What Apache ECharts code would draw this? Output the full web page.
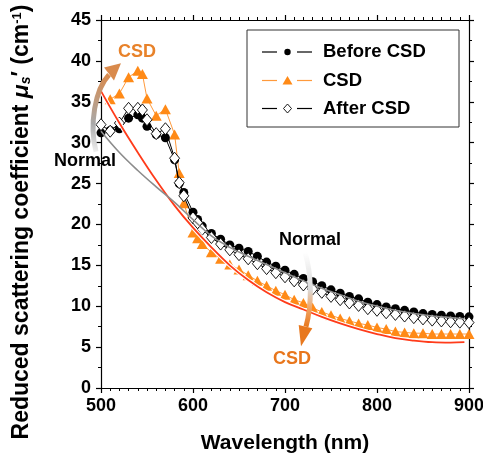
<!DOCTYPE html>
<html>
<head>
<meta charset="utf-8">
<script src="https://cdn.jsdelivr.net/npm/echarts@6/dist/echarts.min.js"></script>
<style>
html, body { margin: 0; padding: 0; background: #fff; }
#chart { width: 483px; height: 459px; }
</style>
</head>
<body>
<div id="chart"></div>
<script>
// Measurement wavelengths (nm)
const wavelengths = [500, 510, 520, 530, 540, 545, 550, 560, 570, 580, 585, 590, 600, 605, 610,
  620, 630, 640, 650, 660, 670, 680, 690, 700, 710, 720, 730, 740, 750, 760, 770, 780, 790, 800,
  810, 820, 830, 840, 850, 860, 870, 880, 890, 900];

// Reduced scattering coefficient (cm^-1)
const beforeCSD = [31.2, 31.5, 31.7, 33.0, 33.4, 33.0, 32.0, 31.0, 30.6, 27.9, 25.0, 23.9, 21.5, 20.6, 19.8,
  18.9, 18.2, 17.5, 17.1, 16.7, 16.1, 15.4, 14.9, 14.4, 13.9, 13.4, 13.0, 12.5, 12.0, 11.6, 11.2, 10.9, 10.5, 10.2,
  9.9, 9.7, 9.5, 9.3, 9.1, 9.0, 8.9, 8.8, 8.75, 8.7];
const duringCSD = [null, 35.3, 36.0, 38.0, 38.8, 38.4, 35.4, 33.3, 34.1, 31.0, 26.3, 22.6, 19.0, 18.3, 17.6,
  16.6, 15.8, 15.1, 14.5, 13.8, 13.1, 12.5, 11.9, 11.4, 10.8, 10.4, 9.8, 9.3, 8.9, 8.5, 8.2, 7.9, 7.7, 7.4,
  7.2, 6.9, 6.8, 6.7, 6.7, 6.6, 6.6, 6.6, 6.6, 6.6];
const afterCSD = [32.2, 31.4, 32.4, 34.2, 34.2, 34.0, 32.8, 31.1, 31.7, 28.1, 25.1, 23.5, 20.8, 20.2, 19.4,
  18.4, 17.6, 16.9, 16.3, 15.8, 15.2, 14.6, 14.1, 13.6, 13.1, 12.6, 12.1, 11.7, 11.2, 10.8, 10.4, 10.1, 9.7, 9.5,
  9.2, 9.0, 8.8, 8.6, 8.45, 8.3, 8.2, 8.1, 8.05, 8.0];

// Fitted curves
const fitWavelengths = [500, 520, 540, 560, 580, 600, 620, 640, 660, 680, 700, 720, 740, 760, 780, 800, 820, 840, 860, 880, 895];
const fitCSD = [36.3, 32.4, 28.8, 25.4, 22.3, 19.6, 17.2, 15.0, 13.2, 11.7, 10.5, 9.6, 8.7, 7.9, 7.2, 6.6, 6.1, 5.8, 5.6, 5.55, 5.6];
const fitNormal = [31.4, 28.8, 26.6, 24.6, 22.7, 20.6, 18.6, 17.2, 16.1, 15.1, 14.1, 13.1, 12.2, 11.4, 10.6, 10.0, 9.5, 9.1, 8.8, 8.6, 8.45];

// Axis ticks
const xTicks = { min: 500, max: 900, step: 100, minorSplit: 10 };
const yTicks = { min: 0, max: 45, step: 5, minorSplit: 2 };

const seriesNames = ['Before CSD', 'CSD', 'After CSD'];

// Annotation anchors in data coordinates (wavelength, value)
const leftArrowPath = [[494.6, 28.9], [487.0, 32.2], [493.5, 36.5], [508.7, 38.3]];
const leftArrowHead = [[521.7, 39.7], [503.3, 39.2], [514.1, 37.6]];
const midArrowPath = [[721.7, 16.6], [729.3, 13.8], [729.3, 10.2], [722.8, 7.5]];
const midArrowHead = [[717.4, 5.1], [714.9, 7.7], [729.7, 7.3]];
const notes = [
  { text: 'CSD', at: [539.1, 41.1], color: '#E8822A' },
  { text: 'Normal', at: [482.6, 27.8], color: '#000' },
  { text: 'Normal', at: [727.2, 18.1], color: '#000' },
  { text: 'CSD', at: [707.6, 3.55], color: '#E8761C' }
];

const FONT = 'Arial, "Liberation Sans", Helvetica, sans-serif';
const ORANGE = '#FF8A17';
const ORANGE_LINE = '#FF9A3C';

const zip = (xs, ys) => xs.map((x, i) => [x, ys[i]]);

function axisCommon(ticks, showLabels) {
  return {
    type: 'value',
    min: ticks.min,
    max: ticks.max,
    interval: ticks.step,
    axisLine: { show: true, onZero: false, lineStyle: { color: '#000', width: 1.2 } },
    axisTick: { show: true, inside: false, length: 5, lineStyle: { color: '#000', width: 1.2 } },
    minorTick: { show: true, splitNumber: ticks.minorSplit, length: 3, lineStyle: { color: '#000', width: 1 } },
    splitLine: { show: false },
    minorSplitLine: { show: false },
    axisLabel: {
      show: showLabels,
      color: '#000',
      fontFamily: FONT,
      fontWeight: 'bold',
      fontSize: 18
    }
  };
}

const chart = echarts.init(document.getElementById('chart'), null, { renderer: 'canvas' });

const xBottom = Object.assign(axisCommon(xTicks, true), {
  position: 'bottom',
  name: 'Wavelength (nm)',
  nameLocation: 'middle',
  nameGap: 45,
  nameTextStyle: { color: '#000', fontFamily: FONT, fontWeight: 'bold', fontSize: 21 }
});
xBottom.axisLabel.margin = 9;
const xTop = Object.assign(axisCommon(xTicks, false), { position: 'top' });

const yLeft = Object.assign(axisCommon(yTicks, true), { position: 'left' });
yLeft.axisLabel.margin = 10;
const yRight = Object.assign(axisCommon(yTicks, false), { position: 'right' });

const option = {
  animation: false,
  backgroundColor: '#fff',
  grid: { left: 101, right: 14, top: 20, bottom: 71, containLabel: false, outerBoundsMode: 'none' },
  xAxis: [xBottom, xTop],
  yAxis: [yLeft, yRight],
  series: [
    {
      name: seriesNames[1],
      type: 'line',
      data: zip(wavelengths, duringCSD),
      symbol: 'triangle',
      symbolSize: [11, 10],
      lineStyle: { color: ORANGE_LINE, width: 1 },
      itemStyle: { color: ORANGE, borderWidth: 0 },
      z: 3
    },
    {
      name: seriesNames[0],
      type: 'line',
      data: zip(wavelengths, beforeCSD),
      symbol: 'circle',
      symbolSize: 9,
      lineStyle: { color: '#000', width: 1 },
      itemStyle: { color: '#000', borderWidth: 0 },
      z: 4
    },
    {
      name: seriesNames[2],
      type: 'line',
      data: zip(wavelengths, afterCSD),
      symbol: 'diamond',
      symbolSize: [10, 12],
      lineStyle: { color: '#000', width: 1 },
      itemStyle: { color: '#fff', borderColor: '#000', borderWidth: 0.9 },
      z: 5
    },
    {
      name: 'fit-csd-halo',
      type: 'line',
      data: zip(fitWavelengths, fitCSD),
      smooth: 0.4,
      symbol: 'none',
      lineStyle: { color: '#fff', width: 4 },
      silent: true,
      z: 6
    },
    {
      name: 'fit-csd',
      type: 'line',
      data: zip(fitWavelengths, fitCSD),
      smooth: 0.4,
      symbol: 'none',
      lineStyle: { color: '#FF3B1A', width: 1.8 },
      silent: true,
      z: 7
    },
    {
      name: 'fit-normal',
      type: 'line',
      data: zip(fitWavelengths, fitNormal),
      smooth: 0.4,
      symbol: 'none',
      lineStyle: { color: '#8C8C8C', width: 1.6 },
      silent: true,
      z: 7
    }
  ]
};

chart.setOption(option);

const px = (pt) => chart.convertToPixel({ xAxisIndex: 0, yAxisIndex: 0 }, pt);

function arrow(path, head, stops, headColor) {
  const p = path.map(px);
  const h = head.map(px);
  return [
    {
      type: 'bezierCurve',
      shape: { x1: p[0][0], y1: p[0][1], cpx1: p[1][0], cpy1: p[1][1], cpx2: p[2][0], cpy2: p[2][1], x2: p[3][0], y2: p[3][1] },
      style: {
        fill: null,
        lineWidth: 5,
        stroke: new echarts.graphic.LinearGradient(p[0][0], p[0][1], p[3][0], p[3][1], stops, true)
      },
      z: 100
    },
    {
      type: 'polygon',
      shape: { points: h },
      style: { fill: headColor },
      z: 100
    }
  ];
}

// Legend box with line-symbol-line samples
function legend() {
  const box = { x: 247, y: 30, w: 212, h: 97 };
  const rows = [52, 80.5, 108.5];
  const els = [{
    type: 'rect',
    shape: { x: box.x, y: box.y, width: box.w, height: box.h },
    style: { fill: '#fff', stroke: '#333', lineWidth: 1 },
    z: 90
  }];
  const colors = ['#000', ORANGE_LINE, '#000'];
  rows.forEach((y, i) => {
    els.push({ type: 'line', shape: { x1: 262, y1: y, x2: 277, y2: y }, style: { stroke: colors[i], lineWidth: 1.2 }, z: 91 });
    els.push({ type: 'line', shape: { x1: 297, y1: y, x2: 312, y2: y }, style: { stroke: colors[i], lineWidth: 1.2 }, z: 91 });
    els.push({
      type: 'text',
      style: { x: 323, y: y, text: seriesNames[i], fill: '#000', font: 'bold 18.5px ' + FONT, verticalAlign: 'middle', align: 'left' },
      z: 91
    });
  });
  els.push({ type: 'circle', shape: { cx: 287.5, cy: rows[0], r: 3.2 }, style: { fill: '#000' }, z: 92 });
  els.push({ type: 'polygon', shape: { points: [[287.5, rows[1] - 4.5], [292.5, rows[1] + 4], [282.5, rows[1] + 4]] }, style: { fill: ORANGE }, z: 92 });
  els.push({ type: 'polygon', shape: { points: [[287.5, rows[2] - 4.5], [291.5, rows[2]], [287.5, rows[2] + 4.5], [283.5, rows[2]]] }, style: { fill: '#fff', stroke: '#000', lineWidth: 0.9 }, z: 92 });
  return els;
}

// Vertical axis title with italic mu, subscript s and superscript -1
const yTitle = {
  type: 'text',
  x: 22,
  y: 222,
  rotation: Math.PI / 2,
  style: {
    text: 'Reduced scattering coefficient {mu|μ}{sub|s}{t|′ (cm}{sup|-1}{t|)}',
    font: 'bold 23px ' + FONT,
    fill: '#000',
    align: 'center',
    verticalAlign: 'middle',
    rich: {
      mu: { fill: '#000', fontFamily: FONT, fontWeight: 'bold', fontStyle: 'italic', fontSize: 23 },
      sub: { fill: '#000', fontFamily: FONT, fontWeight: 'bold', fontStyle: 'italic', fontSize: 14, verticalAlign: 'bottom', padding: [9, 0, 0, 0] },
      t: { fill: '#000', fontFamily: FONT, fontWeight: 'bold', fontSize: 23 },
      sup: { fill: '#000', fontFamily: FONT, fontWeight: 'bold', fontSize: 13, verticalAlign: 'top', padding: [0, 0, 9, 0] }
    }
  },
  z: 120
};

const graphics = [].concat(
  legend(),
  [yTitle],
  arrow(leftArrowPath, leftArrowHead,
    [{ offset: 0, color: '#EDEDED' }, { offset: 0.35, color: '#A9A9A9' }, { offset: 1, color: '#D98A4C' }], '#D98A4C'),
  arrow(midArrowPath, midArrowHead,
    [{ offset: 0, color: '#FFFFFF' }, { offset: 0.5, color: '#DADADA' }, { offset: 0.75, color: '#F0A565' }, { offset: 1, color: '#E8781E' }], '#E8781E'),
  notes.map((n) => {
    const c = px(n.at);
    return {
      type: 'text',
      style: { x: c[0], y: c[1], text: n.text, fill: n.color, font: 'bold 18px ' + FONT, align: 'center', verticalAlign: 'middle' },
      z: 110
    };
  })
);

chart.setOption({ graphic: graphics });
</script>
</body>
</html>
